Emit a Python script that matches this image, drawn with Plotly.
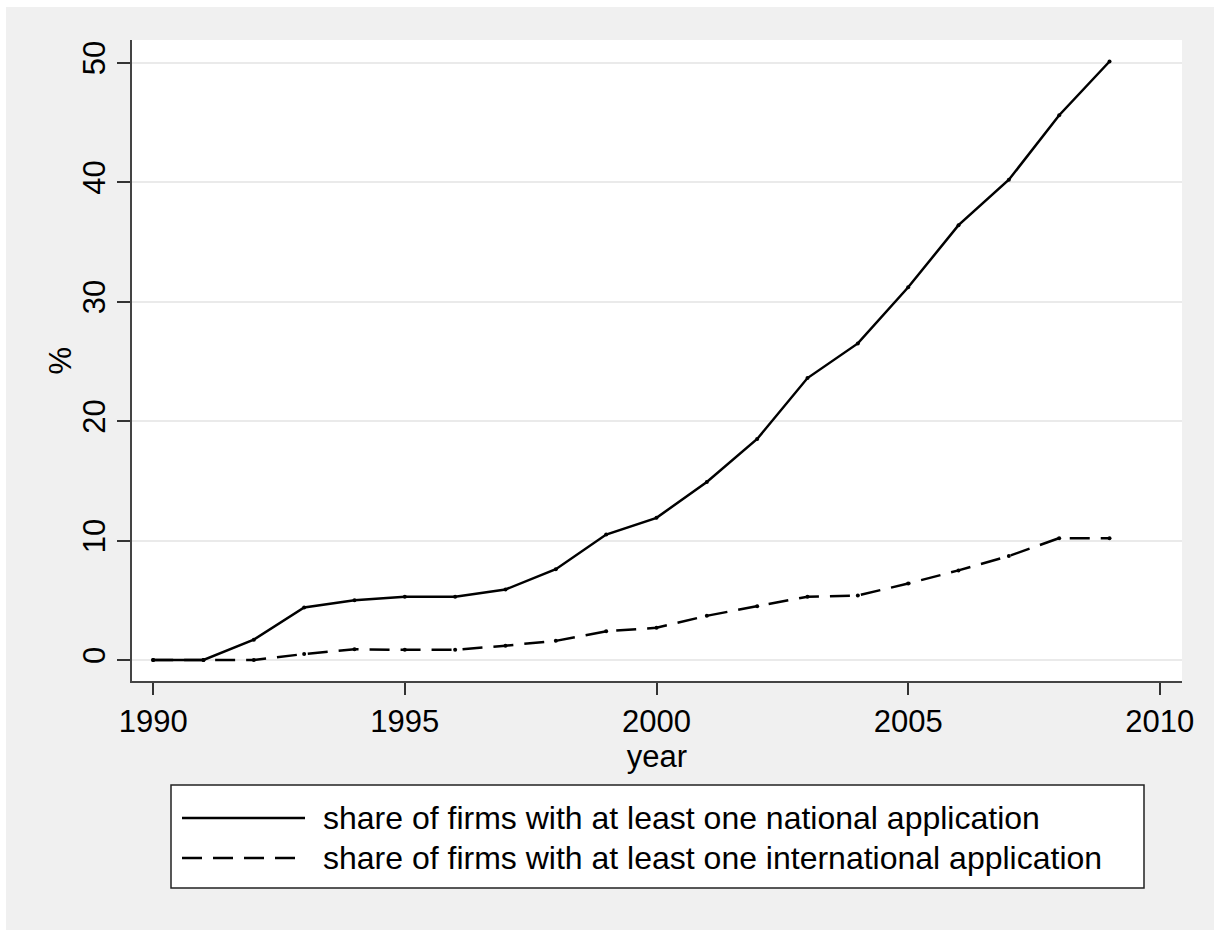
import plotly.graph_objects as go

years = list(range(1990, 2010))
national = [0.0, 0.0, 1.7, 4.4, 5.0, 5.3, 5.3, 5.9, 7.6, 10.5, 11.9, 14.9, 18.5, 23.6, 26.5, 31.2, 36.4, 40.2, 45.6, 50.1]
international = [0.0, 0.0, 0.0, 0.5, 0.9, 0.85, 0.85, 1.2, 1.6, 2.4, 2.7, 3.7, 4.5, 5.3, 5.4, 6.4, 7.5, 8.7, 10.2, 10.2]
labels = ["share of firms with at least one national application",
          "share of firms with at least one international application"]
dashes = ["solid", "20px,11px"]
x_ticks = [1990, 1995, 2000, 2005, 2010]
y_ticks = [0, 10, 20, 30, 40, 50]

W, H = 1214, 930
ML, MR, MT, MB = 132, 32, 40, 249
PW, PH = W - ML - MR, H - MT - MB

def px(x):
    return (x - ML) / PW

def py(y):
    return (H - MB - y) / PH

FONT = "Liberation Sans, Arial, Helvetica, sans-serif"

fig = go.Figure()
for vals, name, d in zip([national, international], labels, dashes):
    fig.add_trace(go.Scatter(x=years, y=vals, mode="lines+markers", name=name,
                             line=dict(color="black", width=2.5, dash=d),
                             marker=dict(color="black", size=4),
                             showlegend=False))

shapes = []
# white strips at top and left edge
shapes.append(dict(type="rect", xref="paper", yref="paper", x0=px(0), x1=px(W), y0=py(7), y1=py(0),
                   fillcolor="white", line=dict(width=0), layer="below"))
shapes.append(dict(type="rect", xref="paper", yref="paper", x0=px(0), x1=px(6), y0=py(H), y1=py(0),
                   fillcolor="white", line=dict(width=0), layer="below"))
# legend box
shapes.append(dict(type="rect", xref="paper", yref="paper", x0=px(171), x1=px(1144), y0=py(888), y1=py(785),
                   fillcolor="white", line=dict(color="#222222", width=1.5)))
annotations = []
for i, (name, d) in enumerate(zip(labels, dashes)):
    yy = py(818 + 40 * i)
    shapes.append(dict(type="line", xref="paper", yref="paper", x0=px(182), x1=px(305), y0=yy, y1=yy,
                       line=dict(color="black", width=2.5, dash=d)))
    annotations.append(dict(xref="paper", yref="paper", x=px(321), y=yy, text=name, showarrow=False,
                            xanchor="left", yanchor="middle", font=dict(size=32, color="black", family=FONT)))
# y-axis title
annotations.append(dict(xref="paper", yref="paper", x=px(60), y=0.5, text="%", showarrow=False,
                        textangle=-90, xanchor="center", yanchor="middle",
                        font=dict(size=31, color="black", family=FONT)))

fig.update_layout(
    width=W, height=H,
    margin=dict(l=ML, r=MR, t=MT, b=MB),
    paper_bgcolor="#f0f0f0", plot_bgcolor="white",
    font=dict(family=FONT, size=31, color="black"),
    shapes=shapes, annotations=annotations,
    xaxis=dict(range=[1989.58, 2010.44], tickvals=x_ticks, ticks="outside", ticklen=12, tickwidth=1.5,
               tickcolor="#333333", showline=True, linecolor="#444444", linewidth=2, showgrid=False,
               zeroline=False, title=dict(text="year", standoff=2, font=dict(size=31)),
               tickfont=dict(size=31)),
    yaxis=dict(range=[-1.76, 51.9], tickvals=y_ticks, ticks="outside", ticklen=13, tickwidth=1.5,
               tickcolor="#333333", showline=True, linecolor="#444444", linewidth=2, showgrid=True,
               gridcolor="#eaeaea", gridwidth=2, zeroline=False, tickangle=-90,
               tickfont=dict(size=31)),
)

fig.write_html("out.html")
